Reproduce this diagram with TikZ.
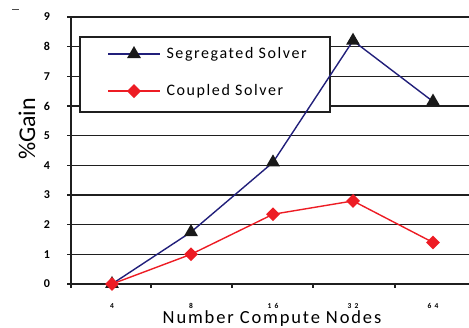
\documentclass[tikz,border=0pt]{standalone}
\usepackage{fontspec}
\setmainfont{Carlito}
\newfontfamily\legfont[LetterSpace=10]{Carlito}
\newfontfamily\tickfont[LetterSpace=45]{Carlito}
\usetikzlibrary{shapes.geometric}
\definecolor{segblue}{RGB}{33,31,122}
\definecolor{coupred}{RGB}{237,28,36}
\tikzset{
  gridline/.style={line width=1.4pt,black!88},
  axisline/.style={line width=1.8pt,black!88},
  segline/.style={line width=1.4pt,segblue},
  coupline/.style={line width=1.4pt,coupred},
  trimark/.style={regular polygon,regular polygon sides=3,fill=black!90,inner sep=0pt,minimum size=16pt},
  diamark/.style={diamond,fill=coupred,inner sep=0pt,minimum size=14pt},
  ylab/.style={font=\fontsize{12}{12}\selectfont\bfseries},
  xlab/.style={font=\fontsize{7.5}{7.5}\selectfont\bfseries\tickfont}
}
\begin{document}
\begin{tikzpicture}[x=1pt,y=1pt]
\useasboundingbox (0,0) rectangle (469,328);
\draw[line width=0.8pt,black!70] (12,319) -- (19,319);
\begin{scope}[shift={(0,44)},y=29.67pt]
% grid and axes
\foreach \v in {1,...,9} {
  \draw[gridline] (67,\v) -- (469,\v);
  \node[ylab] (y\v) at (47,\v) {\v};
}
\node[ylab] (y0) at (47,0) {0};
\draw[axisline] (67,0) -- (469,0);
\draw[axisline] (71,-4pt) -- (71,9);
\foreach \x in {151,232,313,395} \draw[axisline] (\x,0) -- ++(0,-4.5pt);
\foreach \x/\t in {112/4,191/8,273/16,353/32,433/64}
  \node[xlab] (x\t) at (\x,-0.74) {\t};
% legend
\node[draw=black!88,line width=1.4pt,fill=white,minimum width=250pt,minimum height=75pt] (legend) at (205,7.06) {};
\coordinate (lsa) at (108,7.75); \coordinate (lsb) at (160,7.75);
\coordinate (lca) at (108,6.5); \coordinate (lcb) at (160,6.5);
\draw[segline] (lsa) -- (lsb);
\node[trimark] at (134,7.75) {};
\draw[coupline] (lca) -- (lcb);
\node[diamark] at (134,6.5) {};
\node[anchor=west,font=\fontsize{16}{16}\selectfont\legfont] (lseg) at (163,7.75) {Segregated Solver};
\node[anchor=west,font=\fontsize{16}{16}\selectfont\legfont] (lcoup) at (163,6.5) {Coupled Solver};
% data
\foreach \x/\v [count=\i] in {112/0,191/1.75,273/4.1,353/8.2,433/6.15}
  \coordinate (s\i) at (\x,\v);
\foreach \x/\v [count=\i] in {112/0,191/1.0,273/2.35,353/2.8,433/1.4}
  \coordinate (c\i) at (\x,\v);
\draw[segline] (s1) -- (s2) -- (s3) -- (s4) -- (s5);
\draw[coupline] (c1) -- (c2) -- (c3) -- (c4) -- (c5);
\foreach \i in {1,...,5} \node[trimark] at (s\i) {};
\foreach \i in {1,...,5} \node[diamark] at (c\i) {};
\end{scope}
\node[rotate=90,font=\fontsize{24}{24}\selectfont] (ytitle) at (27,199) {\%Gain};
\node[font=\fontsize{18.5}{18.5}\selectfont\legfont] (xtitle) at (272,9) {Number Compute Nodes};
\end{tikzpicture}
\end{document}
